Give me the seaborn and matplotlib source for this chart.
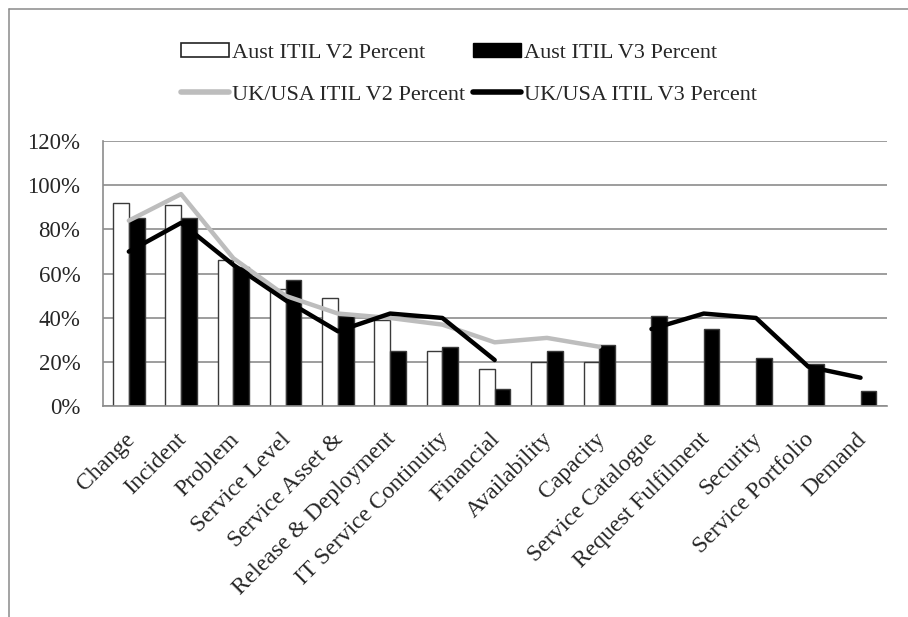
import numpy as np
import pandas as pd
import matplotlib
matplotlib.use("Agg")
import matplotlib.pyplot as plt
import matplotlib.transforms as mtransforms
from matplotlib.patches import Patch
from matplotlib.lines import Line2D
import seaborn as sns

# ITIL process adoption (percent of respondents)
categories = ["Change", "Incident", "Problem", "Service Level", "Service Asset &",
              "Release & Deployment", "IT Service Continuity", "Financial",
              "Availability", "Capacity", "Service Catalogue", "Request Fulfilment",
              "Security", "Service Portfolio", "Demand"]
nan = np.nan
aust_v2 = [92, 91, 66, 53, 49, 39, 25, 17, 20, 20, nan, nan, nan, nan, nan]
aust_v3 = [85, 85, 63, 57, 41, 25, 27, 8, 25, 28, 41, 35, 22, 19, 7]
ukusa_v2 = [84, 96, 67, 50, 42, 40, 37, 29, 31, 27, nan, nan, nan, nan, nan]
ukusa_v3 = [70, 83, 64, 48, 34, 42, 40, 21, nan, nan, 35, 42, 40, 18, 13]
y_ticks = [0, 20, 40, 60, 80, 100, 120]
y_tick_labels = [f"{t}%" for t in y_ticks]

series_names = ["Aust ITIL V2 Percent", "Aust ITIL V3 Percent",
                "UK/USA ITIL V2 Percent", "UK/USA ITIL V3 Percent"]

sns.set_theme(style="white")
plt.rcParams["font.family"] = ["Liberation Serif", "DejaVu Serif"]

bars = pd.DataFrame({
    "process": categories * 2,
    "series": [series_names[0]] * len(categories) + [series_names[1]] * len(categories),
    "value": aust_v2 + aust_v3,
})

fig = plt.figure(figsize=(9.08, 6.17), dpi=100)
ax = fig.add_axes([0.1131, 0.3412, 0.8634, 0.4303])

sns.barplot(data=bars, x="process", y="value", hue="series",
            hue_order=series_names[:2], order=categories,
            palette={series_names[0]: "white", series_names[1]: "black"},
            width=0.6, gap=0, edgecolor="#3a3a3a", linewidth=1.0,
            legend=False, ax=ax, zorder=2)

xpos = np.arange(len(categories))
ax.plot(xpos, ukusa_v2, color="#bdbdbd", lw=3.2, solid_capstyle="round",
        solid_joinstyle="round", zorder=3)
ax.plot(xpos, ukusa_v3, color="black", lw=3.2, solid_capstyle="round",
        solid_joinstyle="round", zorder=4)

ax.set_ylim(0, 120)
ax.set_xlim(-0.5, len(categories) - 0.5)
ax.set_yticks(y_ticks)
ax.set_yticklabels(y_tick_labels, fontsize=16.5, color="#262626")
ax.yaxis.grid(True, color="#8c8c8c", lw=1.2)
ax.set_axisbelow(True)
ax.set_xlabel("")
ax.set_ylabel("")

for side in ["top", "right"]:
    ax.spines[side].set_visible(False)
for side in ["left", "bottom"]:
    ax.spines[side].set_color("#8c8c8c")
    ax.spines[side].set_linewidth(1.2)

ax.tick_params(axis="y", direction="out", length=3, width=1.0, color="#8c8c8c", pad=13)
ax.tick_params(axis="x", length=0, pad=16)

ax.set_xticks(xpos)
ax.set_xticklabels(categories, rotation=45, ha="right", va="top",
                   rotation_mode="anchor", fontsize=17, color="#262626")
offset = mtransforms.ScaledTranslation(-5 / 100, 0, fig.dpi_scale_trans)
for lbl in ax.get_xticklabels():
    lbl.set_transform(lbl.get_transform() + offset)

handles = [
    Patch(facecolor="white", edgecolor="#222222", linewidth=1.2),
    Line2D([0], [0], color="#bdbdbd", lw=4),
    Patch(facecolor="black", edgecolor="black"),
    Line2D([0], [0], color="black", lw=4),
]
labels = [series_names[0], series_names[2], series_names[1], series_names[3]]
fig.legend(handles, labels, ncol=2, loc="upper left",
           bbox_to_anchor=(181 / 908, 1 - 43 / 617), frameon=False,
           fontsize=16, handlelength=2.15, handleheight=0.6,
           handletextpad=0.15, columnspacing=0.35, labelspacing=0.98,
           borderpad=0, borderaxespad=0, labelcolor="#262626")

# outer frame edges along the top and left
fig.add_artist(Line2D([8.5 / 908, 8.5 / 908], [0, 1 - 8.5 / 617],
                      transform=fig.transFigure, color="#8a8a8a", lw=1.1))
fig.add_artist(Line2D([8.5 / 908, 1], [1 - 8.5 / 617, 1 - 8.5 / 617],
                      transform=fig.transFigure, color="#8a8a8a", lw=1.1))

fig.savefig("out.png", dpi=100, facecolor="white")
